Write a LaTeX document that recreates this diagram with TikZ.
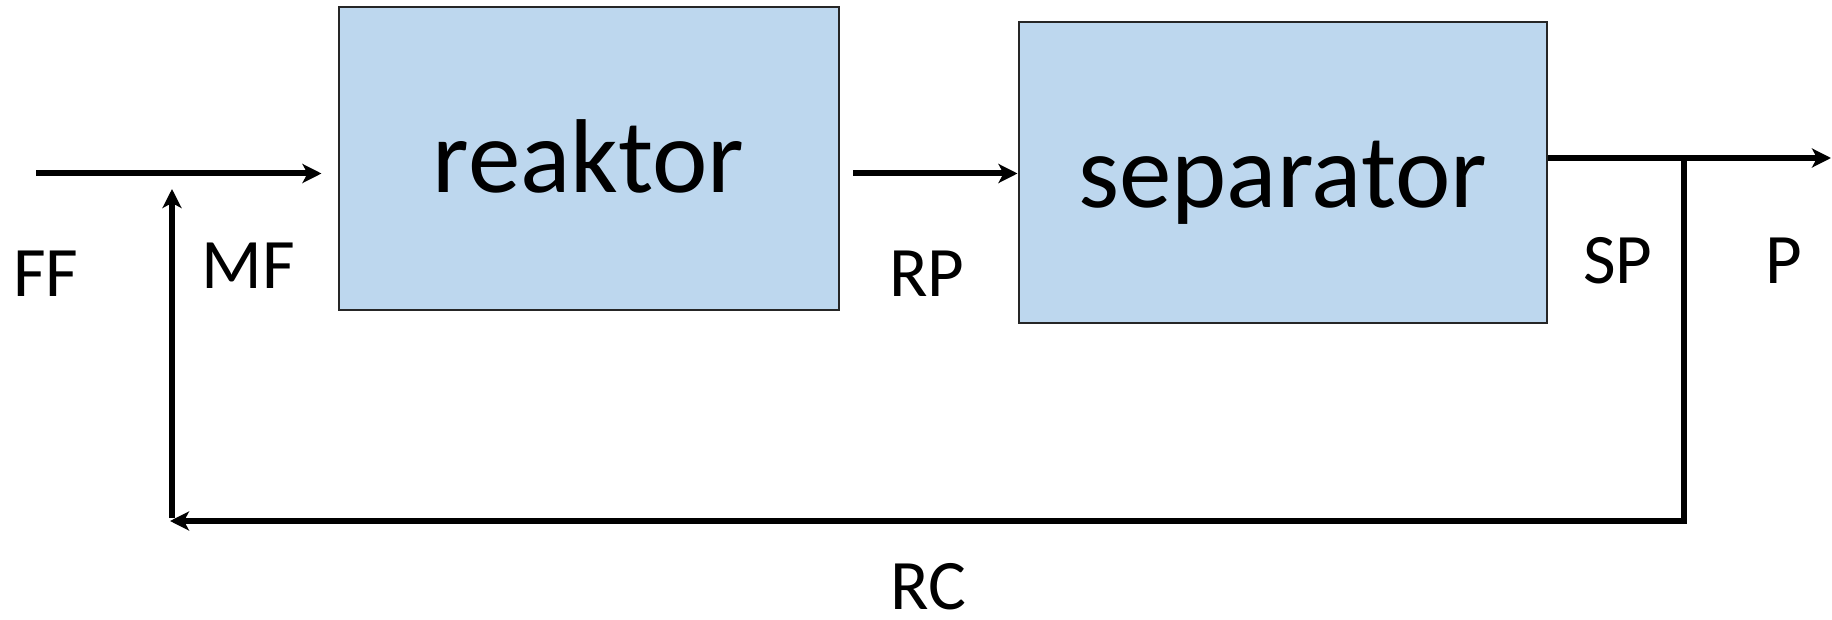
\documentclass[tikz,border=0pt]{standalone}
\usepackage{fontspec}
\setmainfont{Carlito}
\usetikzlibrary{arrows.meta}
\definecolor{boxblue}{HTML}{BDD7EE}
\tikzset{
  x=0.5pt, y=-0.5pt,
  procbox/.style={draw=black!85, line width=1pt, fill=boxblue, inner sep=0pt,
    font=\fontsize{52.5}{60}\selectfont, text height=93pt},
  lbl/.style={anchor=base, inner sep=0pt, font=\fontsize{35.5}{40}\selectfont},
  flow/.style={line width=3pt, -{Stealth[length=9.5pt,width=9.5pt,inset=2.5pt]}},
  flowv/.style={line width=2.6pt, -{Stealth[length=9.5pt,width=9.5pt,inset=2.5pt]}},
  plainv/.style={line width=2.6pt},
}
\begin{document}
\begin{tikzpicture}
\useasboundingbox (0,0) rectangle (1832,620);
% boxes
\node[procbox, text depth=58.5pt, minimum width=250pt] (reaktor) at (588.5,158.5) {reaktor};
\node[procbox, text depth=57.75pt, minimum width=264.25pt] (separator) at (1282.75,172.75) {separator};
% coordinates
\coordinate (ffstart) at (36,173.5);
\coordinate (rpstart) at (853,173.5);
\coordinate (split) at (1684,158);
\coordinate (pend) at (1831,158);
\coordinate (rc) at (1684,521);
\coordinate (lcorner) at (170,521);
\coordinate (mfbase) at (172,521);
\coordinate (mfend) at (172,189);
% connectors
\draw[flow] (ffstart) -- ([xshift=-8pt]ffstart -| reaktor.west);
\draw[flow] (rpstart) -- (rpstart -| separator.west);
\draw[flow] (split -| separator.east) -- (pend);
\draw[plainv] (split) -- (rc);
\draw[flow] ([xshift=1.3pt]rc) -- (lcorner);
\draw[flowv] ([yshift=1.5pt]mfbase) -- (mfend);
% labels
\node[lbl] (ff) at (46,296.7) {FF};
\node[lbl] (mf) at (248.5,288.3) {MF};
\node[lbl] (rp) at (927,296.7) {RP};
\node[lbl] (sp) at (1618,283.3) {SP};
\node[lbl] (p) at (1784,283.3) {P};
\node[lbl, text depth=0pt] (rclbl) at (928,609) {RC};
\end{tikzpicture}
\end{document}
